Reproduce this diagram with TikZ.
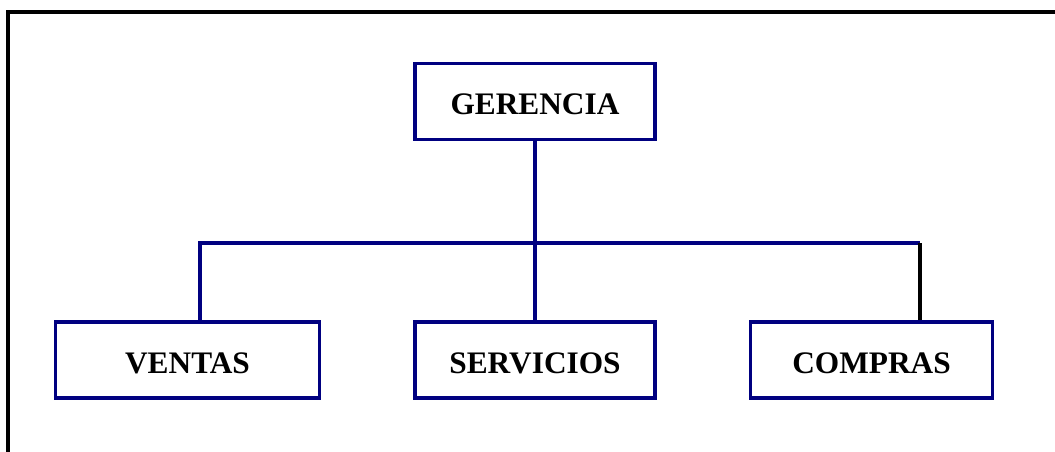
\documentclass[tikz,border=0pt]{standalone}
\usepackage{fontspec}
\setmainfont{Liberation Serif}
\usepackage{xcolor}
\definecolor{orgblue}{RGB}{0,0,128}

\begin{document}
\begin{tikzpicture}[x=0.75pt, y=-0.75pt,
    unitbox/.style={draw=orgblue, line width=2.4pt, fill=white, minimum width=180pt,
      minimum height=57pt, inner sep=0pt, text height=20pt, text depth=0pt,
      font=\fontsize{23.5}{27}\selectfont\bfseries},
    branch/.style={draw=orgblue, line width=2.5pt}]
  \useasboundingbox (0, 0) rectangle (1055, 452);

  % Outer frame
  \draw[line width=2.4pt, black] (8, 460) -- (8, 12) -- (1065, 12);

  % Boxes
  \node[unitbox] (gerencia) at (535, 101.5) {GERENCIA};
  \node[unitbox, minimum width=198pt] (ventas) at (187.5, 360) {VENTAS};
  \node[unitbox] (servicios) at (535, 360) {SERVICIOS};
  \node[unitbox, minimum width=182pt] (compras) at (871.5, 360) {COMPRAS};

  % Connectors
  \coordinate (bus) at (535, 243);
  \draw[branch] (gerencia.south) -- (servicios.north);
  \draw[branch] (ventas.north -| 200, 0) |- (bus);
  \draw[branch] (bus) -| (920, 243);
  \draw[line width=2.5pt, black] (compras.north -| 920, 0) -- (920, 243);
\end{tikzpicture}
\end{document}
